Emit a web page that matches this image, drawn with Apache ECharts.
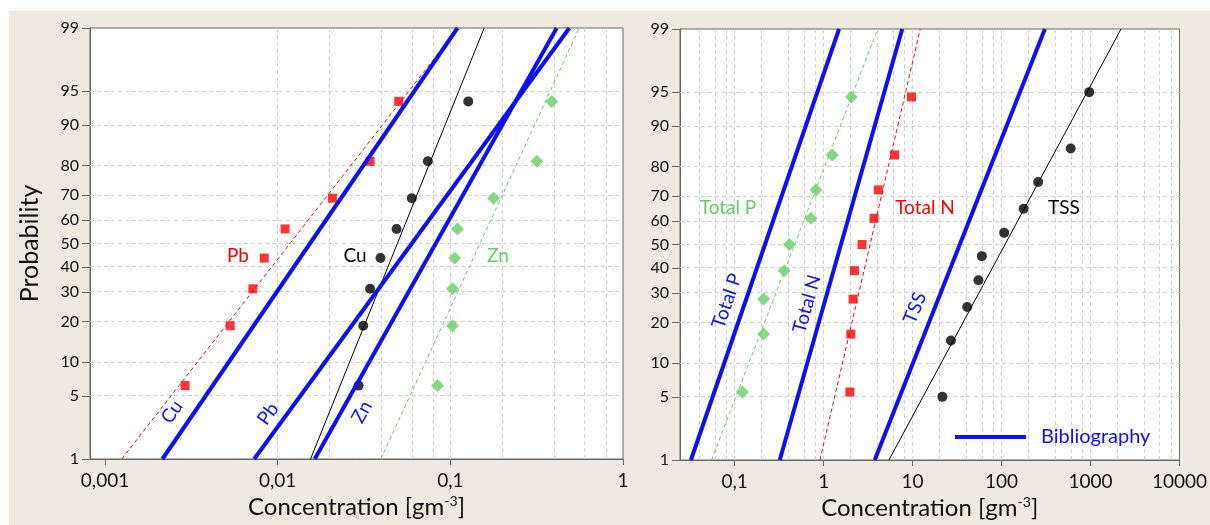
<!DOCTYPE html>
<html><head><meta charset="utf-8">
<script src="https://cdn.jsdelivr.net/npm/echarts@6/dist/echarts.min.js"></script>
<style>
html,body{margin:0;padding:0;background:#fff;}
#wrap{position:relative;width:1210px;height:525px;background:#fff;overflow:hidden;}
#bg{position:absolute;left:9px;top:11px;right:0;bottom:0;background:#EEEAE0;}
#chart{position:absolute;left:0;top:0;width:1210px;height:525px;}
</style></head><body>
<div id="wrap"><div id="bg"></div><div id="chart"></div></div>
<script>
// ---------- DATA ----------
const probTicks = [1, 5, 10, 20, 30, 40, 50, 60, 70, 80, 90, 95, 99];
const leftDecades = [0.001, 0.01, 0.1, 1];
const rightDecades = [0.1, 1, 10, 100, 1000, 10000];
const fitProbs = [1, 99];

// left panel (metals), Hazen plotting positions n=8
const probs8 = [6.25, 18.75, 31.25, 43.75, 56.25, 68.75, 81.25, 93.75];
const pbConc = [0.00291, 0.00531, 0.00718, 0.00836, 0.01104, 0.02075, 0.0343, 0.0502];
const cuConc = [0.0294, 0.0313, 0.0343, 0.0394, 0.0488, 0.0598, 0.0741, 0.127];
const znConc = [0.0843, 0.103, 0.103, 0.106, 0.110, 0.178, 0.317, 0.387];
const pbFit = [0.00125, 0.111];
const cuFit = [0.0155, 0.157];
const znFit = [0.0396, 0.558];
const bibCu = [0.00215, 0.110];
const bibPb = [0.00731, 0.489];
const bibZn = [0.0164, 0.413];

// right panel (nutrients, TSS)
const probs9 = [5.56, 16.67, 27.78, 38.89, 50, 61.11, 72.22, 83.33, 94.44];
const tpConc = [0.122, 0.211, 0.211, 0.36, 0.412, 0.721, 0.82, 1.25, 2.05];
const tnConc = [1.97, 2.02, 2.14, 2.22, 2.70, 3.68, 4.11, 6.27, 9.72];
const probs10 = [5, 15, 25, 35, 45, 55, 65, 75, 85, 95];
const tssConc = [21.6, 27.0, 41.1, 55.0, 60, 107, 177, 258, 599, 967];
const tpFit = [0.0549, 4.05];
const tnFit = [0.908, 12.2];
const tssFit = [5.42, 2205];
const bibTP = [0.0322, 1.49];
const bibTN = [0.321, 7.64];
const bibTSS = [3.75, 307];

// ---------- helpers ----------
function probit(p) {
  const a=[-3.969683028665376e+01,2.209460984245205e+02,-2.759285104469687e+02,1.383577518672690e+02,-3.066479806614716e+01,2.506628277459239e+00];
  const b=[-5.447609879822406e+01,1.615858368580409e+02,-1.556989798598866e+02,6.680131188771972e+01,-1.328068155288572e+01];
  const c=[-7.784894002430293e-03,-3.223964580411365e-01,-2.400758277161838e+00,-2.549732539343734e+00,4.374664141464968e+00,2.938163982698783e+00];
  const d=[7.784695709041462e-03,3.224671290700398e-01,2.445134137142996e+00,3.754408661907416e+00];
  const pl=0.02425, ph=1-pl; let q, r;
  if (p < pl) { q=Math.sqrt(-2*Math.log(p)); return (((((c[0]*q+c[1])*q+c[2])*q+c[3])*q+c[4])*q+c[5])/((((d[0]*q+d[1])*q+d[2])*q+d[3])*q+1); }
  if (p <= ph) { q=p-0.5; r=q*q; return (((((a[0]*r+a[1])*r+a[2])*r+a[3])*r+a[4])*r+a[5])*q/(((((b[0]*r+b[1])*r+b[2])*r+b[3])*r+b[4])*r+1); }
  q=Math.sqrt(-2*Math.log(1-p)); return -(((((c[0]*q+c[1])*q+c[2])*q+c[3])*q+c[4])*q+c[5])/((((d[0]*q+d[1])*q+d[2])*q+d[3])*q+1);
}
const Z = p => probit(p / 100);
const zMin = Z(1), zMax = Z(99);

const FONT = 'Lato, "Open Sans", sans-serif';
const BLUE = '#0f0ff5', RED = '#ff0000', GREEN = '#66cc66', BLACK = '#000000';

function minorGrid(decs, lo, hi) {
  const out = [];
  decs.forEach(d => { [1, 2, 4, 6, 8].forEach(m => { const v = d * m / 10; if (v > lo * 1.001 && v < hi * 0.999) out.push(v); }); });
  [1,2,4,6,8].forEach(m => { const v = decs[decs.length-1] * m; if (v > lo && v < hi * 0.999) out.push(v); });
  return out;
}
const leftMin = Math.pow(10, -3.087), leftMax = 1;
const rightMin = Math.pow(10, -1.615), rightMax = 10000;

function fmtX(v) {
  const s = String(+v.toPrecision(6));
  return s.replace('.', ',');
}
function fmtY(v) {
  let best = probTicks[0];
  probTicks.forEach(p => { if (Math.abs(Z(p) - v) < Math.abs(Z(best) - v)) best = p; });
  return String(best);
}

function gridSeries(idx, decs, lo, hi) {
  const xs = minorGrid(decs, lo, hi);
  const ys = probTicks.filter(p => p > 1 && p < 99);
  return {
    type: 'line', xAxisIndex: idx, yAxisIndex: idx, data: [], silent: true, z: 1,
    markLine: {
      silent: true, z: 1, animation: false, symbol: ['none', 'none'], label: { show: false },
      lineStyle: { color: '#d2d2d2', type: [4, 3], width: 1 },
      emphasis: { disabled: true },
      data: xs.map(v => ({ xAxis: v })).concat(ys.map(p => ({ yAxis: Z(p) === 0 ? 1e-9 : Z(p) })))
    }
  };
}
function scatter(idx, conc, probs, symbol, size, color) {
  return { type: 'scatter', xAxisIndex: idx, yAxisIndex: idx, z: 3, silent: true,
    symbol: symbol, symbolSize: size, itemStyle: { color: color },
    data: conc.map((c, i) => [c, Z(probs[i])]) };
}
function fitLine(idx, ends, color, dashed) {
  return { type: 'line', xAxisIndex: idx, yAxisIndex: idx, z: 3, silent: true, symbol: 'none',
    lineStyle: { color: color, width: 1, type: dashed ? [4, 3] : 'solid' },
    data: ends.map((c, i) => [c, Z(fitProbs[i])]) };
}
function bibLine(idx, ends) {
  return { name: 'Bibliography', type: 'line', xAxisIndex: idx, yAxisIndex: idx, z: 4, silent: true,
    symbol: 'none', lineStyle: { color: BLUE, width: 4 }, itemStyle: { color: BLUE },
    data: ends.map((c, i) => [c, Z(fitProbs[i])]) };
}

const nameRich = {
  a: { fontSize: 24, fontFamily: FONT, color: '#111' },
  s: { fontSize: 14, fontFamily: FONT, color: '#111', verticalAlign: 'top', padding: [0, 0, 10, 0] }
};
function xAxis(idx, lo, hi) {
  return {
    type: 'log', logBase: 10, gridIndex: idx, min: lo, max: hi,
    axisLine: { show: true, onZero: false, lineStyle: { color: '#666', width: 1 } },
    axisTick: { show: true, length: 6, lineStyle: { color: '#666' } },
    axisLabel: { fontSize: 19, fontFamily: FONT, color: '#111', margin: 12, showMinLabel: false, formatter: fmtX },
    splitLine: { show: false }, minorTick: { show: false },
    name: '{a|Concentration [gm}{s|-3}{a|]}', nameLocation: 'middle', nameGap: 35,
    nameTextStyle: { rich: nameRich }
  };
}
function yAxis(idx, withName) {
  const ax = {
    type: 'value', gridIndex: idx, min: zMin, max: zMax,
    axisLine: { show: true, onZero: false, lineStyle: { color: '#666', width: 1 } },
    axisTick: { show: true, length: 8, lineStyle: { color: '#666' }, customValues: probTicks.map(Z) },
    axisLabel: { fontSize: 16, fontFamily: FONT, color: '#111', margin: 11, customValues: probTicks.map(Z), formatter: fmtY },
    splitLine: { show: false }
  };
  if (withName) {
    ax.name = 'Probability'; ax.nameLocation = 'middle'; ax.nameGap = 48;
    ax.nameTextStyle = { fontSize: 25, fontFamily: FONT, color: '#111' };
  }
  return ax;
}
function txt(x, y, s, color, rotDeg) {
  return { type: 'text', x: x, y: y, rotation: (rotDeg || 0) * Math.PI / 180, z: 10, silent: true,
    style: { text: s, fill: color, font: '19px ' + FONT, align: 'center', verticalAlign: 'middle' } };
}

const option = {
  animation: false,
  backgroundColor: 'transparent',
  grid: [
    { left: 90, top: 28, width: 533, height: 431, show: true, backgroundColor: '#fff', borderColor: '#666', borderWidth: 1 },
    { left: 680, top: 29, width: 502, height: 431, show: true, backgroundColor: '#fff', borderColor: '#666', borderWidth: 1 }
  ],
  xAxis: [xAxis(0, leftMin, leftMax), xAxis(1, rightMin, rightMax)],
  yAxis: [yAxis(0, true), yAxis(1, false)],
  legend: {
    data: ['Bibliography'], left: 955, top: 427, padding: 0, icon: 'rect', itemWidth: 71, itemHeight: 4,
    selectedMode: false,
    textStyle: { fontSize: 20, fontFamily: FONT, color: BLUE, padding: [0, 0, 0, 10] }
  },
  graphic: [
    txt(238, 256, 'Pb', RED), txt(355, 256, 'Cu', BLACK), txt(498, 256, 'Zn', GREEN),
    txt(172, 412, 'Cu', BLUE, 55), txt(268, 414, 'Pb', BLUE, 54), txt(362, 412, 'Zn', BLUE, 61),
    txt(728, 208, 'Total P', GREEN), txt(925, 208, 'Total N', RED), txt(1064, 208, 'TSS', BLACK),
    txt(727, 301, 'Total P', BLUE, 71), txt(807, 304, 'Total N', BLUE, 74), txt(915, 308, 'TSS', BLUE, 68)
  ],
  series: [
    gridSeries(0, leftDecades, leftMin, leftMax),
    gridSeries(1, rightDecades, rightMin, rightMax),
    fitLine(0, pbFit, RED, true), fitLine(0, cuFit, BLACK, false), fitLine(0, znFit, GREEN, true),
    scatter(0, pbConc, probs8, 'rect', 9, RED),
    scatter(0, cuConc, probs8, 'circle', 10, BLACK),
    scatter(0, znConc, probs8, 'diamond', 13, GREEN),
    bibLine(0, bibCu), bibLine(0, bibPb), bibLine(0, bibZn),
    fitLine(1, tpFit, GREEN, true), fitLine(1, tnFit, RED, true), fitLine(1, tssFit, BLACK, false),
    scatter(1, tpConc, probs9, 'diamond', 13, GREEN),
    scatter(1, tnConc, probs9, 'rect', 9, RED),
    scatter(1, tssConc, probs10, 'circle', 10, BLACK),
    bibLine(1, bibTP), bibLine(1, bibTN), bibLine(1, bibTSS)
  ]
};
const chart = echarts.init(document.getElementById('chart'), null, { renderer: 'canvas' });
chart.setOption(option);
</script>
</body></html>
